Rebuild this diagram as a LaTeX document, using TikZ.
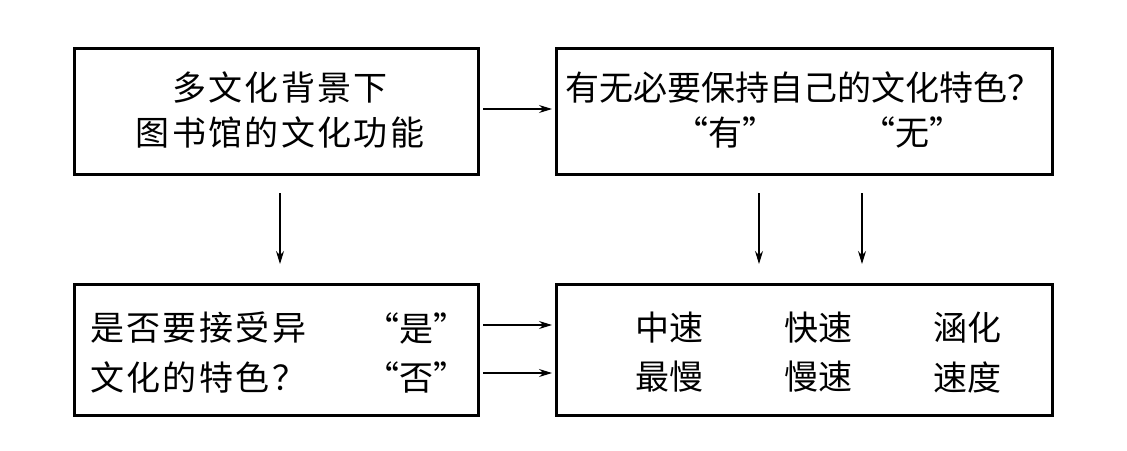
\documentclass[tikz,border=0pt]{standalone}
\usepackage{fontspec}
\usetikzlibrary{arrows.meta}
\setmainfont{Noto Sans CJK SC}
\newfontfamily\cjkwide{Noto Sans CJK SC}[LetterSpace=7]
\newfontfamily\cjk{Noto Sans CJK SC}
\begin{document}
\begin{tikzpicture}[x=1pt,y=-1pt,
  box/.style={draw,line width=3pt,inner sep=0pt},
  txt/.style={inner sep=0pt,font=\cjk\fontsize{34}{40}\selectfont,anchor=center},
  wtxt/.style={inner sep=0pt,font=\cjkwide\fontsize{34}{40}\selectfont},
  arr/.style={-{Stealth[length=13pt,width=8pt]},line width=1.1pt}]
\useasboundingbox (0,0) rectangle (1127,450);
% boxes
\node[box,minimum width=404pt,minimum height=126pt] (b1) at (276,111) {};
\node[box,minimum width=496pt,minimum height=126pt] (b2) at (804,111) {};
\node[box,minimum width=404pt,minimum height=131pt] (b3) at (276,349.5) {};
\node[box,minimum width=496pt,minimum height=131pt] (b4) at (804,349.5) {};
% texts box1
\node[wtxt] (t11) at (280,87) {多文化背景下};
\node[wtxt] (t12) at (280,132) {图书馆的文化功能};
% box2
\node[txt,anchor=west] (t21) at (565,87) {有无必要保持自己的文化特色？};
\node[txt] (t22) at (725,132) {“有”};
\node[txt] (t23) at (912,132) {“无”};
% box3
\node[wtxt,anchor=west] (t31) at (90,328) {是否要接受异};
\node[wtxt,anchor=west] (t32) at (90,377) {文化的特色？};
\node[txt,anchor=east] (t33) at (468,328) {“是”};
\node[txt,anchor=east] (t34) at (468,377) {“否”};
% box4
\node[txt] (c11) at (669,328) {中速};
\node[txt] (c12) at (818,328) {快速};
\node[txt] (c13) at (967,328) {涵化};
\node[txt] (c21) at (669,377) {最慢};
\node[txt] (c22) at (818,377) {慢速};
\node[txt] (c23) at (967,377) {速度};
% arrows
\coordinate (a1s) at (483,109); \coordinate (a1e) at (552,109);
\draw[arr] (a1s) -- (a1e);
\coordinate (a2s) at (280,193); \coordinate (a2e) at (280,264);
\draw[arr] (a2s) -- (a2e);
\coordinate (a3s) at (759,193); \coordinate (a3e) at (759,264);
\draw[arr] (a3s) -- (a3e);
\coordinate (a4s) at (862,193); \coordinate (a4e) at (862,264);
\draw[arr] (a4s) -- (a4e);
\coordinate (a5s) at (483,325); \coordinate (a5e) at (552,325);
\draw[arr] (a5s) -- (a5e);
\coordinate (a6s) at (483,373); \coordinate (a6e) at (552,373);
\draw[arr] (a6s) -- (a6e);
\end{tikzpicture}
\end{document}
